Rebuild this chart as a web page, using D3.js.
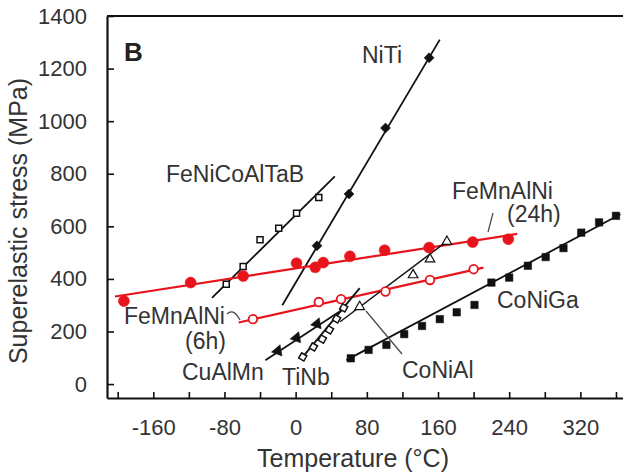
<!DOCTYPE html>
<html>
<head>
<meta charset="utf-8">
<script src="https://cdn.jsdelivr.net/npm/d3@7"></script>
<style>
  html, body { margin: 0; padding: 0; background: #fff; }
  svg { display: block; font-family: "Liberation Sans", Arial, Helvetica, sans-serif; }
</style>
</head>
<body>
<svg id="chart" width="623" height="475"></svg>
<script>
// Superelastic stress (MPa) versus test temperature (°C) for several shape-memory alloys.
// Each alloy: measured points plus the end points of its fitted trend line.

const temperatureTicks = d3.range(-200, 361, 40);
const temperatureLabels = [-160, -80, 0, 80, 160, 240, 320];
const stressTicks = [0, 200, 400, 600, 800, 1000, 1200, 1400];

const nitiTemp = [24, 60, 101, 150];
const nitiStress = [526, 723, 974, 1241];
const nitiFit = [[-15, 300], [162, 1310]];

const feNiCoAlTaBTemp = [-78, -59, -40, -19, 1, 26];
const feNiCoAlTaBStress = [380, 447, 549, 593, 650, 710];
const feNiCoAlTaBFit = [[-94, 328], [44, 790]];

const feMnAlNi24Temp = [-193, -118, -59, 1, 22, 31, 61, 100, 150, 199, 239];
const feMnAlNi24Stress = [316, 386, 411, 460, 444, 462, 486, 509, 519, 540, 551];
const feMnAlNi24Fit = [[-203, 333], [249, 571]];

const feMnAlNi6Temp = [-48, 26, 51, 101, 151, 200];
const feMnAlNi6Stress = [247, 312, 323, 352, 396, 437];
const feMnAlNi6Fit = [[-64, 234], [211, 443]];

const cuAlMnTemp = [-20, 1, 24];
const cuAlMnStress = [126, 176, 229];
const cuAlMnFit = [[-34, 91], [52, 282]];

const tiNbTemp = [8, 20, 30, 38, 46, 54];
const tiNbStress = [103, 141, 171, 206, 248, 290];
const tiNbFit = [[6, 95], [72, 365]];

const coNiAlTemp = [72, 132, 151, 170];
const coNiAlStress = [294, 415, 475, 542];
const coNiAlFit = [[50, 237], [172, 548]];

const coNiGaTemp = [62, 82, 102, 122, 142, 162, 181, 201, 220, 240, 261, 281, 301, 321, 341, 360];
const coNiGaStress = [98, 130, 149, 190, 221, 247, 273, 301, 386, 405, 450, 483, 517, 576, 615, 640];
const coNiGaFit = [[57, 91], [365, 646]];

const RED = "#e8141c";
const INK = "#111";
const TEXT = "#333";

const series = [
  { temp: feNiCoAlTaBTemp, stress: feNiCoAlTaBStress, fit: feNiCoAlTaBFit, line: INK, lw: 1.8,
    marker: { type: d3.symbolSquare, size: 36, fill: "#fff", stroke: INK, sw: 1.5, rot: 0 } },
  { temp: nitiTemp, stress: nitiStress, fit: nitiFit, line: INK, lw: 1.8,
    marker: { type: d3.symbolSquare, size: 50, fill: INK, stroke: INK, sw: 0.5, rot: 45 } },
  { temp: feMnAlNi24Temp, stress: feMnAlNi24Stress, fit: feMnAlNi24Fit, line: RED, lw: 2.2,
    marker: { type: d3.symbolCircle, size: Math.PI * 5.5 * 5.5, fill: RED, stroke: RED, sw: 0.5, rot: 0 } },
  { temp: feMnAlNi6Temp, stress: feMnAlNi6Stress, fit: feMnAlNi6Fit, line: RED, lw: 2.2,
    marker: { type: d3.symbolCircle, size: Math.PI * 4.3 * 4.3, fill: "#fff", stroke: RED, sw: 1.8, rot: 0 } },
  { temp: cuAlMnTemp, stress: cuAlMnStress, fit: cuAlMnFit, line: INK, lw: 1.8,
    marker: { type: d3.symbolTriangle, size: 55, fill: INK, stroke: INK, sw: 0.5, rot: -100 } },
  { temp: tiNbTemp, stress: tiNbStress, fit: tiNbFit, line: INK, lw: 1.8,
    marker: { type: d3.symbolSquare, size: 36, fill: "#fff", stroke: INK, sw: 1.5, rot: 30 } },
  { temp: coNiAlTemp, stress: coNiAlStress, fit: coNiAlFit, line: INK, lw: 1.5,
    marker: { type: d3.symbolTriangle, size: 40, fill: "#fff", stroke: INK, sw: 1.2, rot: 0 } },
  { temp: coNiGaTemp, stress: coNiGaStress, fit: coNiGaFit, line: INK, lw: 1.8,
    marker: { type: d3.symbolSquare, size: 56, fill: INK, stroke: INK, sw: 0.5, rot: 0 } }
];

const svg = d3.select("#chart");

const plot = { left: 107, right: 640, top: 16, bottom: 398 };

const x = d3.scaleLinear().domain([-212, 387]).range([plot.left, plot.right]);
const y = d3.scaleLinear().domain([-53, 1400]).range([plot.bottom, plot.top]);

// Axes with inward ticks
const xAxis = d3.axisBottom(x)
  .tickValues(temperatureTicks)
  .tickSizeInner(-6).tickSizeOuter(0).tickPadding(21)
  .tickFormat(d => temperatureLabels.includes(d) ? String(d) : "");

const yAxis = d3.axisLeft(y)
  .tickValues(stressTicks)
  .tickSizeInner(-7).tickSizeOuter(0).tickPadding(20)
  .tickFormat(d3.format("d"));

const gx = svg.append("g").attr("transform", `translate(0,${plot.bottom})`).call(xAxis);
const gy = svg.append("g").attr("transform", `translate(${plot.left},0)`).call(yAxis);

[gx, gy].forEach(g => {
  g.select(".domain").attr("stroke", INK).attr("stroke-width", 2.2);
  g.selectAll(".tick line").attr("stroke", INK).attr("stroke-width", 1.6);
  g.selectAll(".tick text")
    .attr("fill", TEXT)
    .style("font-size", "22px")
    .style("font-family", "'Liberation Sans', Arial, sans-serif");
});

// Top frame line
svg.append("line")
  .attr("x1", plot.left).attr("x2", plot.right)
  .attr("y1", plot.top).attr("y2", plot.top)
  .attr("stroke", INK).attr("stroke-width", 2.2);

// Axis titles
svg.append("text")
  .attr("x", 353).attr("y", 467)
  .attr("text-anchor", "middle")
  .attr("fill", TEXT)
  .style("font-size", "25px")
  .text("Temperature (°C)");

svg.append("text")
  .attr("transform", "translate(27,221) rotate(-90)")
  .attr("text-anchor", "middle")
  .attr("fill", TEXT)
  .style("font-size", "25px")
  .text("Superelastic stress (MPa)");

// Panel letter
svg.append("text")
  .attr("x", 124).attr("y", 61)
  .attr("fill", "#222")
  .style("font-size", "26px")
  .style("font-weight", "bold")
  .text("B");

// Trend lines
const lineGen = d3.line().x(d => x(d[0])).y(d => y(d[1]));
const gLines = svg.append("g");
series.forEach(s => {
  gLines.append("path")
    .attr("d", lineGen(s.fit))
    .attr("fill", "none")
    .attr("stroke", s.line)
    .attr("stroke-width", s.lw);
});

// Markers
const gMarks = svg.append("g");
series.forEach(s => {
  const m = s.marker;
  const sym = d3.symbol().type(m.type).size(m.size);
  gMarks.append("g")
    .selectAll("path")
    .data(s.temp.map((t, i) => [t, s.stress[i]]))
    .join("path")
    .attr("d", sym)
    .attr("transform", d => `translate(${x(d[0])},${y(d[1])}) rotate(${m.rot})`)
    .attr("fill", m.fill)
    .attr("stroke", m.stroke)
    .attr("stroke-width", m.sw);
});

// Alloy labels
const labels = [
  { text: "NiTi", x: 362, y: 63 },
  { text: "FeNiCoAlTaB", x: 166, y: 182 },
  { text: "FeMnAlNi", x: 452, y: 199 },
  { text: "(24h)", x: 507, y: 222 },
  { text: "FeMnAlNi", x: 124, y: 324 },
  { text: "(6h)", x: 185, y: 349 },
  { text: "CuAlMn", x: 182, y: 380 },
  { text: "TiNb", x: 282, y: 385 },
  { text: "CoNiAl", x: 402, y: 378 },
  { text: "CoNiGa", x: 497, y: 308 }
];
svg.append("g")
  .selectAll("text")
  .data(labels)
  .join("text")
  .attr("x", d => d.x).attr("y", d => d.y)
  .attr("fill", TEXT)
  .style("font-size", "23px")
  .text(d => d.text);

// Leader lines from labels to their curves
const leaders = svg.append("g").attr("fill", "none").attr("stroke", "#444").attr("stroke-width", 1.2);
leaders.append("line").attr("x1", 493).attr("y1", 213).attr("x2", 488).attr("y2", 232);
leaders.append("line").attr("x1", 366).attr("y1", 311).attr("x2", 402).attr("y2", 354);
leaders.append("path").attr("d", "M227,314 C231,310 235,311 240,320");
</script>
</body>
</html>
